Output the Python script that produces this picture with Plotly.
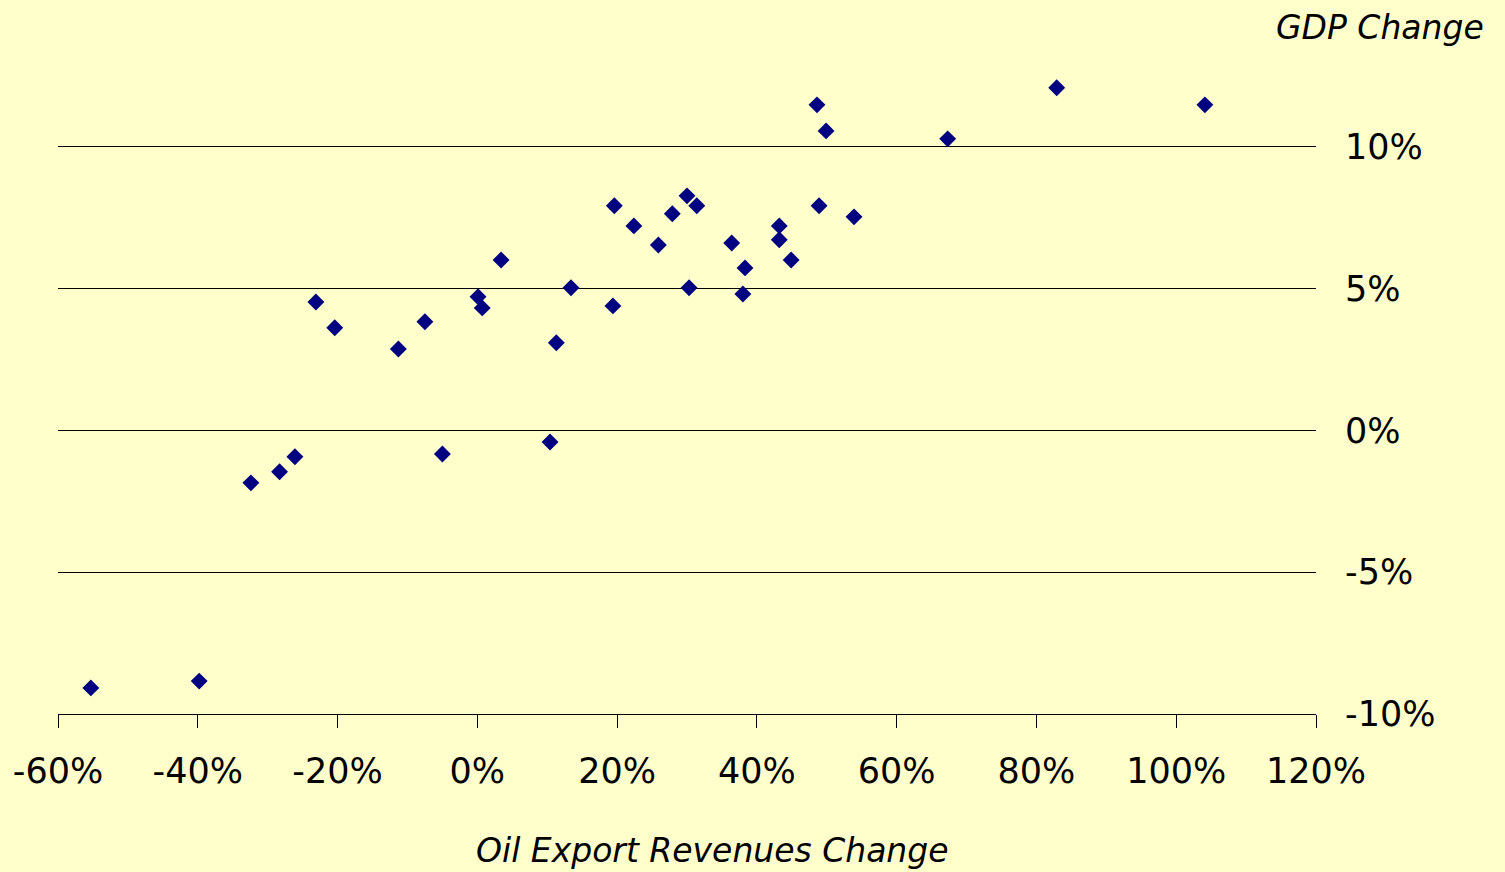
import plotly.graph_objects as go

# Oil export revenues change (%) and GDP change (%)
oil_change = [-55.3, -39.8, -32.4, -28.3, -26.1, -23.1, -20.4, -11.3, -7.5, -5.0,
              0.1, 0.7, 3.4, 10.4, 11.3, 13.4, 19.4, 19.6, 22.4, 25.9,
              27.9, 30.0, 30.3, 31.4, 36.4, 38.0, 38.3, 43.2, 43.2, 44.9,
              48.6, 48.9, 49.9, 53.9, 67.3, 82.9, 104.1]
gdp_change = [-9.08, -8.84, -1.85, -1.46, -0.93, 4.53, 3.62, 2.87, 3.83, -0.83,
              4.71, 4.32, 6.01, -0.41, 3.09, 5.03, 4.39, 7.92, 7.21, 6.54,
              7.64, 8.27, 5.03, 7.92, 6.61, 4.81, 5.73, 7.21, 6.72, 6.01,
              11.48, 7.92, 10.56, 7.53, 10.28, 12.08, 11.48]

x_ticks = [-60, -40, -20, 0, 20, 40, 60, 80, 100, 120]
y_ticks = [-10, -5, 0, 5, 10]

x_title = "Oil Export Revenues Change"
y_title = "GDP Change"

FONT = "DejaVu Sans"
BG = "#FFFFCC"

fig = go.Figure()
fig.add_trace(go.Scatter(
    x=oil_change, y=gdp_change, mode="markers",
    marker=dict(symbol="diamond", size=13, color="#000080",
                line=dict(width=0)),
    hoverinfo="x+y",
))

fig.update_layout(
    width=1505, height=872,
    paper_bgcolor=BG, plot_bgcolor=BG,
    margin=dict(l=58, r=189, t=5, b=158),
    showlegend=False,
    font=dict(family=FONT, size=35, color="black"),
    xaxis=dict(
        range=[-60, 120], tickvals=x_ticks,
        ticktext=[f"{v}%" for v in x_ticks],
        showgrid=False, zeroline=False,
        showline=True, linecolor="black", linewidth=1,
        ticks="outside", ticklen=13, tickcolor="black", tickwidth=1,
        ticklabelstandoff=13,
        tickfont=dict(family=FONT, size=35, color="black"),
    ),
    yaxis=dict(
        range=[-10, 15], tickvals=y_ticks,
        ticktext=[f"{v}%" for v in y_ticks],
        side="right",
        showgrid=True, gridcolor="black", gridwidth=1,
        zeroline=False, showline=False, ticks="",
        ticklabelstandoff=28,
        tickfont=dict(family=FONT, size=35, color="black"),
    ),
    annotations=[
        dict(text=y_title, xref="paper", yref="paper", x=1.1355, y=0.968,
             xanchor="right", yanchor="middle", showarrow=False,
             font=dict(family=FONT, size=33, style="italic", color="black")),
        dict(text=x_title, xref="paper", yref="paper", x=0.52, y=-0.192,
             xanchor="center", yanchor="middle", showarrow=False,
             font=dict(family=FONT, size=33, style="italic", color="black")),
    ],
)

fig.write_html("out.html",
               config={"displayModeBar": False},
               post_script="document.body.style.margin='0';document.body.style.background='#FFFFCC';")
